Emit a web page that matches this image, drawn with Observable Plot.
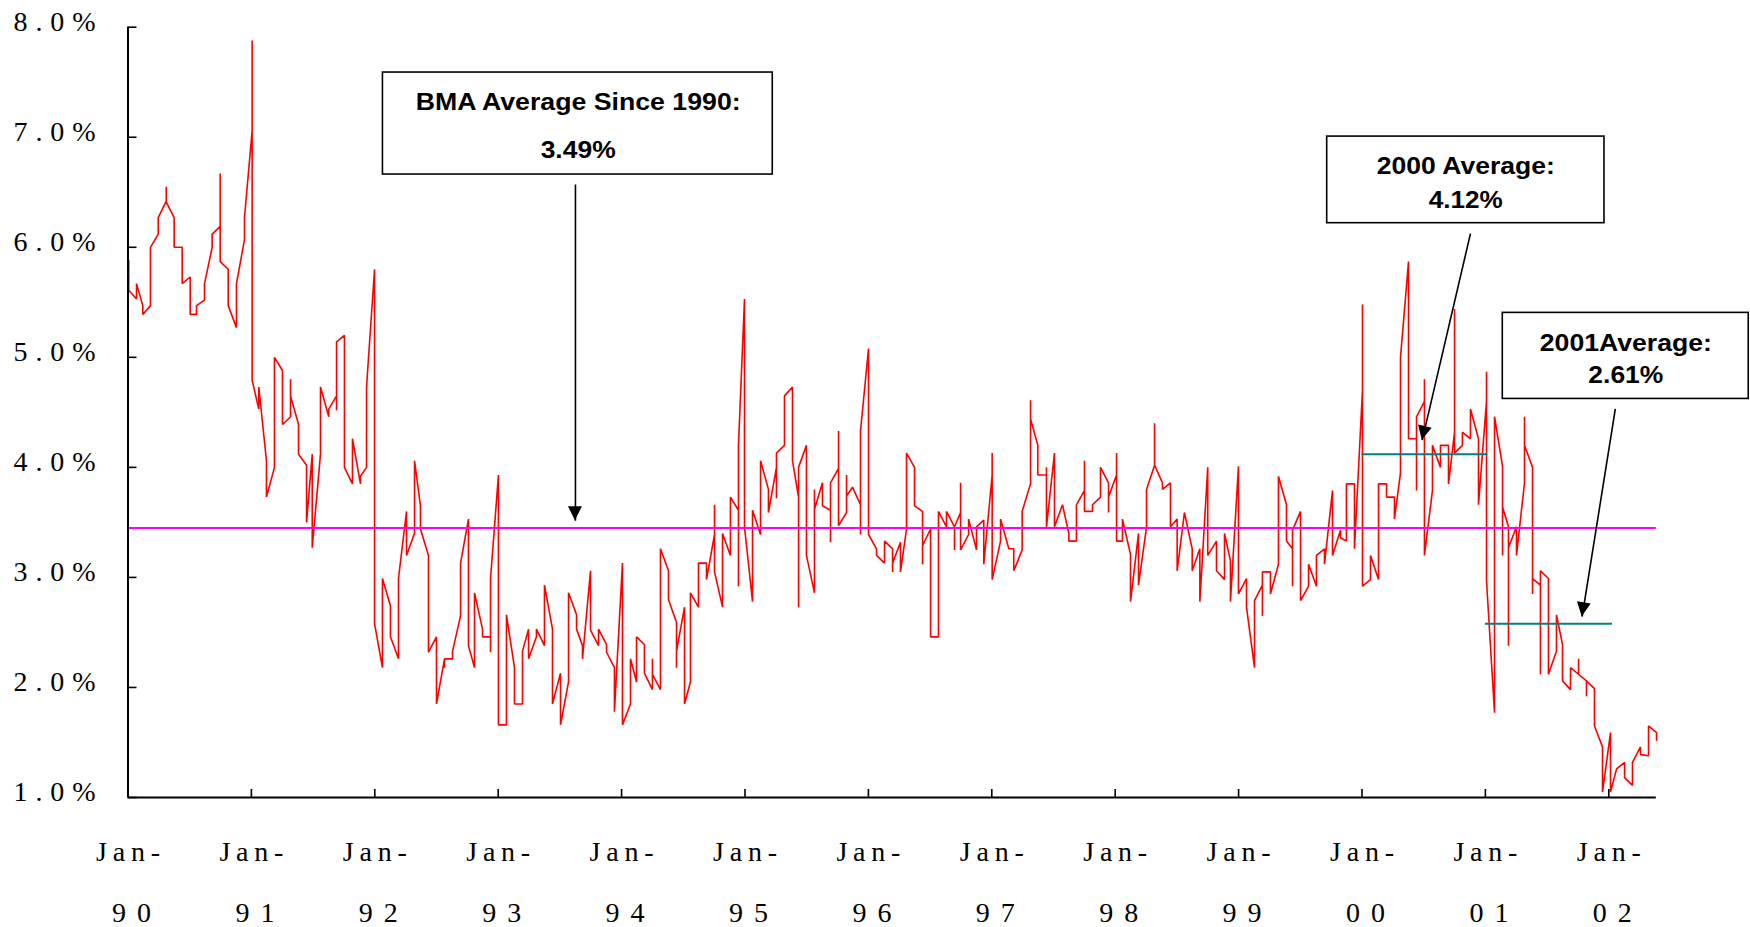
<!DOCTYPE html>
<html><head><meta charset="utf-8">
<script src="https://cdn.jsdelivr.net/npm/d3@7"></script>
<script src="https://cdn.jsdelivr.net/npm/@observablehq/plot@0.6"></script>
<style>
html,body{margin:0;padding:0;background:#fff;}
#chart svg{display:block;}
</style></head>
<body><div id="chart"></div>
<script>
// Each row: [decimal date, readings in drawing order at that date] (percent)
const s1990 = [
 [1990.006, 5.88, 5.61],[1990.069, 5.53, 5.67],[1990.120, 5.47, 5.39],[1990.182, 5.47, 6.00],
 [1990.245, 6.12, 6.27],[1990.310, 6.42, 6.55, 6.41],[1990.374, 6.27, 6.00],[1990.439, 6.00, 5.67],
 [1990.504, 5.73, 5.39],[1990.555, 5.39, 5.47],[1990.620, 5.52, 5.67],[1990.682, 6.00, 6.12],
 [1990.747, 6.19, 6.67, 5.87],[1990.812, 5.80, 5.47],[1990.879, 5.27, 5.67],[1990.944, 6.07, 6.27]
];
const s1991 = [
 [1991.006, 7.06, 7.88, 4.79],[1991.060, 4.53, 4.73],[1991.122, 4.06, 3.73],[1991.187, 4.00, 5.00],
 [1991.252, 4.88, 4.39],[1991.317, 4.46, 4.80, 4.65],[1991.382, 4.39, 4.12],[1991.447, 4.02, 3.50],
 [1991.493, 4.12, 3.27],[1991.560, 4.12, 4.73],[1991.627, 4.46, 4.53],[1991.690, 4.65, 4.52, 5.14],
 [1991.754, 5.20, 4.00],[1991.819, 3.85, 4.26],[1991.884, 3.85, 3.92],[1991.933, 4.00, 4.73]
];
const s1992 = [
 [1991.998, 5.80, 2.58],[1992.062, 2.18, 2.99],[1992.127, 2.74, 2.46],[1992.192, 2.26, 2.99],
 [1992.257, 3.60, 3.20],[1992.322, 3.40, 4.06],[1992.370, 3.65, 3.44],[1992.435, 3.20, 2.32],
 [1992.500, 2.46, 1.85],[1992.565, 2.26, 2.18, 2.26],[1992.630, 2.26, 2.33],[1992.695, 2.65, 3.13],
 [1992.759, 3.53, 2.38],[1992.808, 2.18, 2.86],[1992.873, 2.53, 2.46],[1992.938, 2.46, 2.32, 2.99]
];
const s1993 = [
 [1993.002, 3.93, 1.66],[1993.067, 1.66, 2.66],[1993.132, 2.18, 1.85],[1993.197, 1.85, 2.33],
 [1993.246, 2.53, 2.26],[1993.310, 2.46, 2.53],[1993.375, 2.38, 2.93],[1993.440, 2.53, 1.85],
 [1993.505, 2.13, 1.66],[1993.570, 2.05, 2.86],[1993.635, 2.66, 2.53],[1993.683, 2.38, 2.26],
 [1993.748, 3.06, 2.52],[1993.813, 2.38, 2.53],[1993.878, 2.39, 2.32],[1993.942, 2.18, 1.78]
];
const s1994 = [
 [1994.007, 3.13, 1.66],[1994.072, 1.85, 2.26],[1994.121, 2.05, 2.46],[1994.185, 2.39, 2.13],
 [1994.250, 1.98, 2.26, 2.12],[1994.315, 1.98, 3.26],[1994.380, 3.06, 2.80],[1994.445, 2.59, 2.18, 2.33],
 [1994.510, 2.73, 1.85],[1994.558, 2.05, 2.86],[1994.623, 2.73, 3.13],[1994.688, 3.13, 2.98],
 [1994.753, 3.39, 3.66, 3.05],[1994.818, 2.73, 3.40],[1994.882, 3.20, 3.73],[1994.947, 3.61, 2.92, 4.20]
];
const s1995 = [
 [1994.996, 5.53, 3.46],[1995.061, 2.78, 3.61],[1995.126, 3.39, 4.06],[1995.190, 3.80, 3.59],
 [1995.255, 4.00, 3.72, 4.13],[1995.320, 4.20, 4.65],[1995.385, 4.73, 4.06],[1995.434, 3.73, 2.73, 4.00],
 [1995.498, 4.20, 3.20],[1995.563, 2.86, 3.80, 3.62],[1995.628, 3.86, 3.65],[1995.693, 3.61, 3.32, 3.86],
 [1995.758, 3.99, 4.33, 3.47],[1995.823, 3.59, 3.93, 3.74],[1995.871, 3.82],[1995.936, 3.66, 3.39, 4.33]
];
const s1996 = [
 [1996.001, 5.08, 3.39],[1996.066, 3.26, 3.20],[1996.131, 3.13, 3.33],[1996.196, 3.26, 3.05, 3.13],
 [1996.260, 3.32, 3.05],[1996.309, 3.44, 4.13],[1996.374, 4.00, 3.65],[1996.439, 3.60, 3.12, 3.29],
 [1996.504, 3.44, 2.46],[1996.568, 2.46, 3.60],[1996.633, 3.46, 3.60],[1996.698, 3.46, 3.25, 3.46],
 [1996.747, 3.59, 3.86, 3.25],[1996.812, 3.39, 3.53],[1996.876, 3.25, 3.46],[1996.935, 3.52, 3.12]
];
const s1997 = [
 [1997.003, 3.93, 4.13, 2.98],[1997.071, 3.33, 3.53],[1997.138, 3.26],[1997.178, 3.26, 3.06],
 [1997.246, 3.25, 3.60],[1997.314, 3.85, 4.61, 4.44],[1997.373, 4.20, 3.93],[1997.443, 3.93, 4.00, 3.46],
 [1997.508, 4.13, 3.46],[1997.573, 3.66],[1997.624, 3.40, 3.33],[1997.686, 3.33, 3.66],
 [1997.751, 3.79, 4.06, 3.60],[1997.816, 3.60, 3.66],[1997.881, 3.73, 4.00],[1997.946, 3.86, 3.59, 3.73]
];
const s1998 = [
 [1998.011, 3.93, 4.13, 3.33],[1998.059, 3.33, 3.53],[1998.124, 3.21, 2.78],[1998.189, 3.40, 2.93],
 [1998.254, 3.46, 3.80],[1998.319, 4.02, 4.40, 4.02],[1998.383, 3.86, 3.80],[1998.448, 3.86, 3.59, 3.46],
 [1998.502, 3.53, 3.06],[1998.561, 3.59],[1998.624, 3.26, 3.06],[1998.686, 3.26, 2.78],
 [1998.750, 4.00, 3.20],[1998.821, 3.33, 3.06],[1998.886, 2.98, 3.40],[1998.934, 3.15, 2.78]
];
const s1999 = [
 [1998.999, 4.01, 2.85],[1999.064, 2.99, 2.73],[1999.129, 2.18, 2.79],[1999.193, 2.93, 2.65, 3.05],
 [1999.258, 3.05, 2.85],[1999.323, 3.12, 3.92],[1999.388, 3.66, 3.33],[1999.437, 3.26, 2.92, 3.43],
 [1999.502, 3.60, 2.79],[1999.567, 2.92, 3.12],[1999.631, 2.92, 3.20],[1999.696, 3.26, 3.12],
 [1999.761, 3.79, 3.20],[1999.826, 3.43, 3.36],[1999.874, 3.33, 3.85],[1999.939, 3.85, 3.26]
];
const s2000 = [
 [2000.004, 4.70, 5.48, 2.92],[2000.069, 2.98, 3.20],[2000.134, 2.98, 3.85],[2000.199, 3.85, 3.73],
 [2000.263, 3.73, 3.53],[2000.312, 3.95, 5.00],[2000.377, 5.87, 4.26],[2000.442, 4.26, 3.79, 4.46],
 [2000.506, 4.60, 4.80, 3.20],[2000.571, 3.79, 4.20],[2000.636, 4.00, 4.20],[2000.701, 4.20, 3.85],
 [2000.750, 4.32, 5.44, 4.13],[2000.814, 4.20, 4.32],[2000.879, 4.26, 4.53],[2000.944, 4.26, 3.66]
];
const s2001 = [
 [2001.009, 4.60, 4.87, 2.97],[2001.074, 1.77, 4.46],[2001.139, 4.01, 3.20, 3.64],[2001.187, 3.46, 2.38, 3.27],
 [2001.252, 3.46, 3.20],[2001.317, 3.86, 4.46, 4.20],[2001.382, 4.00, 2.85, 2.99],[2001.446, 2.93, 2.12, 3.06],
 [2001.511, 2.99, 2.12],[2001.576, 2.33, 2.66],[2001.625, 2.39, 2.06],[2001.690, 1.98, 2.18],
 [2001.755, 2.12, 2.26, 2.12],[2001.819, 2.06, 1.92, 2.06],[2001.884, 1.99, 1.65],[2001.949, 1.46, 1.05]
];
const s2002 = [
 [2002.014, 1.59, 1.05],[2002.063, 1.26],[2002.128, 1.32, 1.18],[2002.192, 1.11, 1.32],
 [2002.257, 1.46, 1.39],[2002.322, 1.38, 1.65],[2002.387, 1.59, 1.52]
];

// Averages drawn on the chart
const avgAll = 3.45;
const yearAvgs = [{start: 2000.0, end: 2001.02, value: 4.12}, {start: 2001.0, end: 2002.03, value: 2.58}];

// Axis
const xStart = 1990, xEnd = 2002.385;
const yTicks = [1, 2, 3, 4, 5, 6, 7, 8];
const yearTicks = [1990, 1991, 1992, 1993, 1994, 1995, 1996, 1997, 1998, 1999, 2000, 2001, 2002];
const yearLabels = ["90","91","92","93","94","95","96","97","98","99","00","01","02"];

// Annotations (data coordinates)
const boxes = [
  {x1: 1992.066, x2: 1995.225, y1: 7.588, y2: 6.661},
  {x1: 1999.718, x2: 2001.965, y1: 7.006, y2: 6.219},
  {x1: 2001.141, x2: 2003.134, y1: 5.404, y2: 4.622}
];
const boxLabels = [
  {x: 1993.648, y: 7.319, text: "BMA Average Since 1990:", w: 325},
  {x: 1993.648, y: 6.883, text: "3.49%", w: 75},
  {x: 2000.841, y: 6.734, text: "2000 Average:", w: 178},
  {x: 2000.841, y: 6.421, text: "4.12%", w: 74},
  {x: 2002.138, y: 5.127, text: "2001Average:", w: 172},
  {x: 2002.138, y: 4.834, text: "2.61%", w: 75}
];
const arrows = [
  {x1: 1993.626, y1: 6.570, x2: 1993.626, y2: 3.515},
  {x1: 2000.879, y1: 6.124, x2: 2000.488, y2: 4.247},
  {x1: 2002.053, y1: 4.531, x2: 2001.784, y2: 2.643}
];

const rows = [s1990, s1991, s1992, s1993, s1994, s1995, s1996, s1997, s1998, s1999, s2000, s2001, s2002].flat();
const points = rows.flatMap(([date, ...vals]) => vals.map(v => ({date, v})));

const chart = Plot.plot({
  width: 1750, height: 927,
  marginLeft: 127.5, marginRight: 94.2, marginTop: 26.7, marginBottom: 130,
  x: {domain: [xStart, xEnd], axis: null},
  y: {domain: [1, 8], axis: null},
  style: {background: "#fff", fontFamily: "'Liberation Serif', 'Times New Roman', serif", color: "#000", overflow: "visible"},
  marks: [
    Plot.line(points, {x: "date", y: "v", stroke: "#ff0000", strokeWidth: 1.6, strokeLinejoin: "miter"}),
    Plot.ruleY([avgAll], {x1: xStart, x2: xEnd, y: d => d, stroke: "#ff00ff", strokeWidth: 2}),
    Plot.ruleY(yearAvgs, {x1: "start", x2: "end", y: "value", stroke: "#008080", strokeWidth: 2}),
    // axes
    Plot.ruleX([xStart], {y1: 1, y2: 8, stroke: "#000", strokeWidth: 2}),
    Plot.ruleY([1], {x1: xStart, x2: xEnd, stroke: "#000", strokeWidth: 2}),
    Plot.ruleY(yTicks, {y: d => d, x1: xStart, x2: xStart, insetRight: -9, stroke: "#000", strokeWidth: 1.6}),
    Plot.ruleX(yearTicks.slice(1), {x: d => d, y1: 1, y2: 1, insetTop: -8, stroke: "#000", strokeWidth: 1.6}),
    // text marks (order used below): 0 y labels, 1 "Jan-", 2 year, 3 box labels
    Plot.text(yTicks, {x: xStart, y: d => d, text: d => d.toFixed(1) + "%", textAnchor: "end", dx: -32.5, dy: -5, fontSize: 28, fill: "#000"}),
    Plot.text(yearTicks, {x: d => d, y: 1, text: () => "Jan-", dy: 54.7, fontSize: 28, fill: "#000"}),
    Plot.text(yearTicks, {x: d => d, y: 1, text: (d, i) => yearLabels[i], dy: 115.7, dx: 3.5, fontSize: 28, fill: "#000"}),
    // annotations
    Plot.rect(boxes, {x1: "x1", x2: "x2", y1: "y1", y2: "y2", fill: "#fff", stroke: "#000", strokeWidth: 1.6}),
    Plot.text(boxLabels, {x: "x", y: "y", text: "text", fontFamily: "'Liberation Sans', Arial, sans-serif", fontWeight: "bold", fontSize: 23.5, fill: "#000"}),
    Plot.link(arrows, {x1: "x1", y1: "y1", x2: "x2", y2: "y2", stroke: "#000", strokeWidth: 1.6})
  ]
});

document.getElementById("chart").appendChild(chart);

const svg = d3.select(chart);
const textGroups = svg.selectAll('g[aria-label="text"]').nodes();
const fit = (node, widthFn, mode) => d3.select(node).selectAll("text").each(function(_, i) {
  d3.select(this).attr("textLength", widthFn(i)).attr("lengthAdjust", mode);
});
if (textGroups.length >= 4) {
  fit(textGroups[0], () => 82, "spacing");
  fit(textGroups[1], () => 64, "spacing");
  fit(textGroups[2], () => 39, "spacing");
  fit(textGroups[3], i => boxLabels[i].w, "spacingAndGlyphs");
}

// filled arrowheads positioned through Plot's scales
const sx = chart.scale("x"), sy = chart.scale("y");
const heads = svg.append("g").attr("aria-label", "arrowheads");
arrows.forEach(a => {
  const x1 = sx.apply(a.x1), y1 = sy.apply(a.y1), x2 = sx.apply(a.x2), y2 = sy.apply(a.y2);
  const dx = x2 - x1, dy = y2 - y1, L = Math.hypot(dx, dy), ux = dx / L, uy = dy / L;
  const bx = x2 - ux * 14, by = y2 - uy * 14, px = -uy * 7, py = ux * 7;
  heads.append("path").attr("d", `M${x2},${y2}L${bx + px},${by + py}L${bx - px},${by - py}Z`).attr("fill", "#000");
});
</script>
</body></html>
